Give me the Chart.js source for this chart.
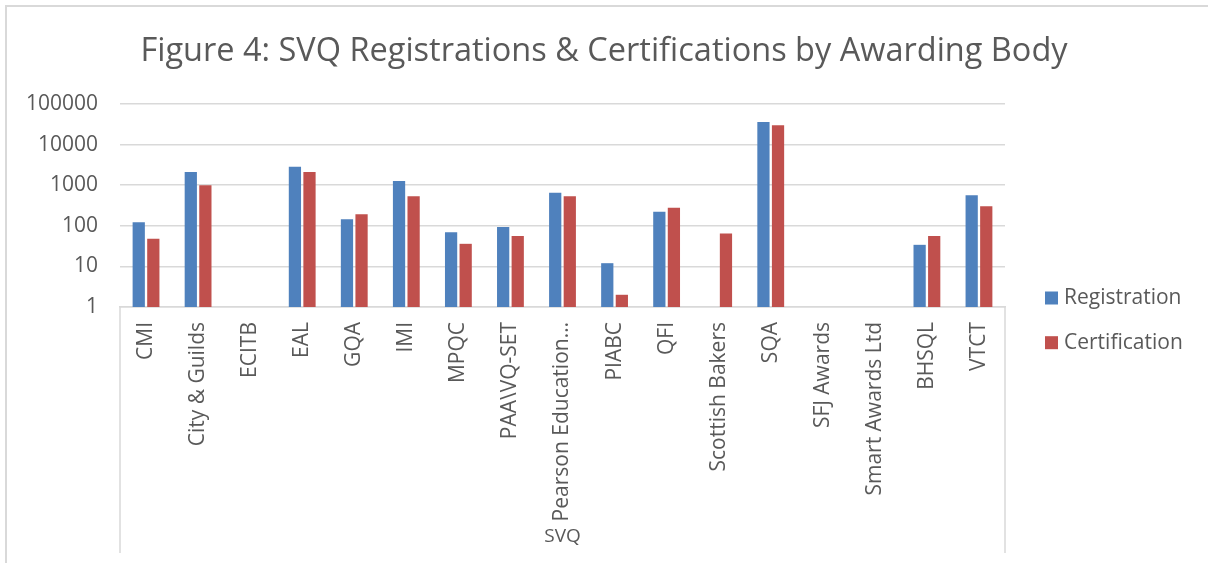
<!DOCTYPE html>
<html>
<head>
<meta charset="utf-8">
<script src="https://cdn.jsdelivr.net/npm/chart.js@4/dist/chart.umd.min.js"></script>
<style>
  html, body { margin: 0; padding: 0; background: #ffffff; }
  #wrap { width: 1208px; height: 563px; position: relative; }
</style>
</head>
<body>
<div id="wrap"><canvas id="c" width="1208" height="563"></canvas></div>
<script>
const titleText = 'Figure 4: SVQ Registrations & Certifications by Awarding Body';
const axisTitle = 'SVQ';
const categories = ['CMI', 'City & Guilds', 'ECITB', 'EAL', 'GQA', 'IMI', 'MPQC', 'PAA\\VQ-SET',
  'Pearson Education\u2026', 'PIABC', 'QFI', 'Scottish Bakers', 'SQA', 'SFJ Awards',
  'Smart Awards Ltd', 'BHSQL', 'VTCT'];
const registration = [122, 2100, null, 2860, 145, 1260, 69, 93, 653, 12, 222, null, 36000, null, null, 34, 564];
const certification = [48, 1000, null, 2100, 192, 533, 36, 56, 533, 2, 279, 65, 29900, null, null, 56, 302];
const yTicks = [1, 10, 100, 1000, 10000, 100000];
const seriesNames = ['Registration', 'Certification'];

const FONT = "'Open Sans', 'Liberation Sans', sans-serif";
const TEXT = '#595959';
const GRID = '#d9d9d9';
const BLUE = '#4F81BD';
const RED = '#C0504D';

const decor = {
  id: 'decor',
  beforeDraw(chart) {
    const ctx = chart.ctx;
    ctx.save();
    ctx.strokeStyle = GRID;
    ctx.lineWidth = 2;
    ctx.beginPath();
    ctx.moveTo(6, 563);
    ctx.lineTo(6, 6);
    ctx.lineTo(1208, 6);
    ctx.stroke();
    ctx.restore();
  },
  afterDraw(chart) {
    const ctx = chart.ctx;
    const area = chart.chartArea;
    ctx.save();
    ctx.strokeStyle = GRID;
    ctx.lineWidth = 1.5;
    ctx.beginPath();
    ctx.moveTo(area.left, area.bottom);
    ctx.lineTo(area.left, 553);
    ctx.moveTo(area.right, area.bottom);
    ctx.lineTo(area.right, 553);
    ctx.stroke();
    // legend
    const items = chart.data.datasets;
    ctx.font = "21px " + FONT;
    ctx.textBaseline = 'middle';
    ctx.textAlign = 'left';
    items.forEach((ds, i) => {
      const cy = 298 + i * 44.7;
      ctx.fillStyle = ds.backgroundColor;
      ctx.fillRect(1045, cy - 6.5, 13, 13);
      ctx.fillStyle = TEXT;
      ctx.fillText(ds.label, 1064, cy);
    });
    ctx.restore();
  }
};

new Chart(document.getElementById('c'), {
  type: 'bar',
  data: {
    labels: categories,
    datasets: [
      { label: seriesNames[0], data: registration, backgroundColor: BLUE },
      { label: seriesNames[1], data: certification, backgroundColor: RED }
    ]
  },
  options: {
    responsive: false,
    animation: false,
    layout: { padding: { left: 0, right: 0, top: 0, bottom: 0 } },
    datasets: { bar: { categoryPercentage: 0.56, barPercentage: 0.84 } },
    plugins: {
      legend: { display: false },
      tooltip: { enabled: false },
      title: {
        display: true,
        text: titleText,
        color: TEXT,
        font: { family: FONT, size: 32.5, weight: 'normal', lineHeight: 1.2 },
        padding: { top: 32.5, bottom: 32.5 }
      }
    },
    scales: {
      x: {
        grid: { display: false, drawTicks: false },
        border: { display: true, color: GRID, width: 1.5 },
        ticks: {
          autoSkip: false, maxRotation: 90, minRotation: 90, padding: 15,
          color: TEXT, font: { family: FONT, size: 21 }
        },
        title: {
          display: true, text: axisTitle, color: TEXT,
          font: { family: FONT, size: 19 }, padding: { top: 0, bottom: 15 }
        },
        afterFit(scale) { scale.height = 256; }
      },
      y: {
        type: 'logarithmic',
        min: 1, max: 100000,
        grid: { color: GRID, lineWidth: 1.5, drawTicks: false },
        border: { display: false },
        ticks: {
          padding: 22, color: TEXT, font: { family: FONT, size: 21 },
          callback: (v) => String(v)
        },
        afterBuildTicks(scale) { scale.ticks = yTicks.map(v => ({ value: v })); },
        afterFit(scale) { scale.width = 120; }
      },
      legendSpace: {
        type: 'linear',
        position: 'right',
        display: true,
        grid: { display: false, drawTicks: false },
        border: { display: false },
        ticks: { display: false },
        afterFit(scale) { scale.width = 203; }
      }
    }
  },
  plugins: [decor]
});
</script>
</body>
</html>
